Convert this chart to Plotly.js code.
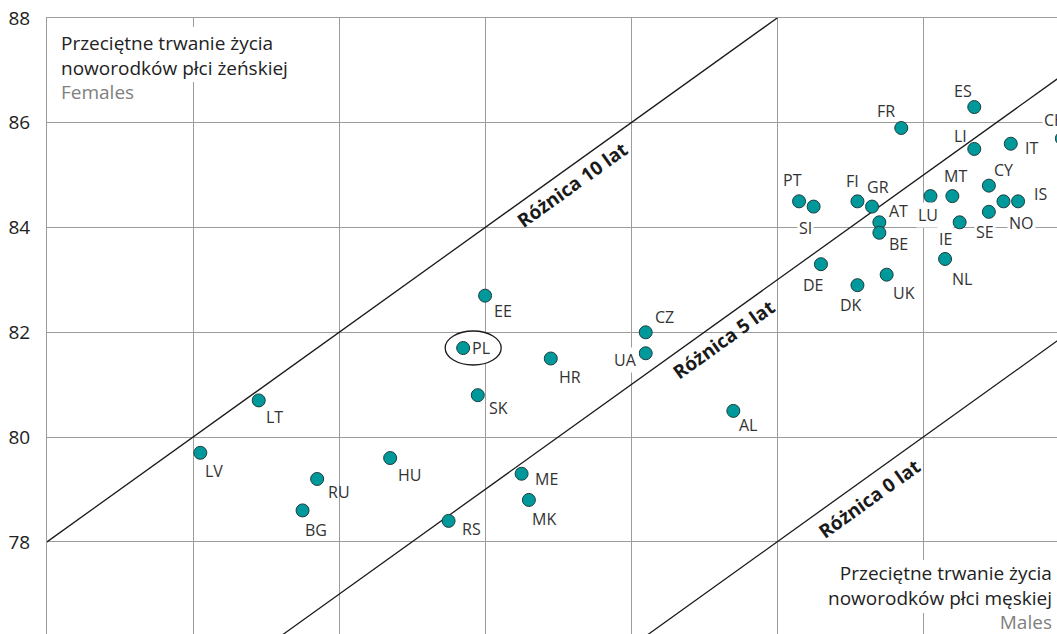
<!DOCTYPE html>
<html>
<head>
<meta charset="utf-8">
<script src="https://cdn.plot.ly/plotly-3.0.1.min.js"></script>
<style>
  html, body { margin: 0; padding: 0; overflow: hidden; background: #fff; }
  #chart { width: 1113px; height: 699px; }
</style>
</head>
<body>
<div id="chart"></div>
<script>
// ---- data (life expectancy at birth) ----
const countries = ["LV","LT","RU","BG","HU","RS","PL","SK","EE","HR","ME","MK","CZ","UA","AL",
                   "PT","SI","FI","GR","AT","BE","DE","DK","UK","FR","LU","MT","IE","NL",
                   "ES","LI","IT","CY","SE","NO","IS","CH"];
const males   = [70.1,70.9,71.7,71.5,72.7,73.5,73.7,73.9,74.0,74.9,74.5,74.6,76.2,76.2,77.4,
                 78.3,78.5,79.1,79.3,79.4,79.4,78.6,79.1,79.5,79.7,80.1,80.4,80.5,80.3,
                 80.7,80.7,81.2,80.9,80.9,81.1,81.3,81.9];
const females = [79.7,80.7,79.2,78.6,79.6,78.4,81.7,80.8,82.7,81.5,79.3,78.8,82.0,81.6,80.5,
                 84.5,84.4,84.5,84.4,84.1,83.9,83.3,82.9,83.1,85.9,84.6,84.6,84.1,83.4,
                 86.3,85.5,85.6,84.8,84.3,84.5,84.5,85.7];
const gapLines = [10, 5, 0];
const gapLabels = ["Różnica 10 lat", "Różnica 5 lat", "Różnica 0 lat"];
const yTicks = [78, 80, 82, 84, 86, 88];
const xGrid = [68, 70, 72, 74, 76, 78, 80, 82];

// ---- layout / style settings ----
const X_RANGE = [68, 82.6], Y_RANGE = [75, 88];
const M = {l: 47, r: 0, t: 18, b: 0};
const W = 1113, H = 699;
const FONT = "'Open Sans', 'Noto Sans', sans-serif";
// label offsets in pixels [dx, dy] (dy downwards)
const LABEL_OFF = {
  LV:[14,18], LT:[16,17], RU:[22,13], BG:[13,20], HU:[19,17], RS:[23,8], PL:[18,0],
  SK:[21,13], EE:[18,15], HR:[19,18], ME:[25,5], MK:[15,19], CZ:[19,-15], UA:[-20,7],
  AL:[15,14], PT:[-7,-21], SI:[-8,21], FI:[-5,-20], GR:[6,-20], AT:[19,-11], BE:[19,11],
  DE:[-7,21], DK:[-6,20], UK:[17,18], FR:[-15,-17], LU:[-2,19], MT:[3,-20], IE:[-14,17],
  NL:[17,20], ES:[-11,-16], LI:[-14,-13], IT:[21,4], CY:[15,-16], SE:[-4,20], NO:[18,22],
  IS:[22,-7], CH:[-7,-18]
};
// labels that knock out the grid lines behind them
const KNOCKOUT = ["SI", "UA", "NO", "SE", "CH", "LU", "IE"];
// gap-line label anchors (data coords)
const GAP_LABEL_POS = [[75.19, 84.82], [77.26, 81.86], [79.26, 78.81]];

const pw = W - M.l - M.r, ph = H - M.t - M.b;
const paperX = px => (px - M.l) / pw;
const paperY = py => 1 - (py - M.t) / ph;
// pixel -> axis value, used only to place white knock-out boxes behind corner texts
const axX = px => X_RANGE[0] + (px - M.l) / pw * (X_RANGE[1] - X_RANGE[0]);
const axY = py => Y_RANGE[1] - (py - M.t) / ph * (Y_RANGE[1] - Y_RANGE[0]);

const traces = [];
gapLines.forEach(d => {
  const xs = [X_RANGE[0] - 10, X_RANGE[1] + 10];
  traces.push({
    type: 'scatter', mode: 'lines', x: xs, y: xs.map(v => v + d),
    line: {color: '#1a1a1a', width: 1.3}, hoverinfo: 'skip', showlegend: false
  });
});
traces.push({
  type: 'scatter', mode: 'markers', x: males, y: females, text: countries,
  marker: {size: 13, color: '#00999b', line: {color: '#1f3d3d', width: 1}},
  showlegend: false, cliponaxis: false
});

const annotations = countries.map((c, i) => ({
  x: males[i], y: females[i], xref: 'x', yref: 'y', text: c, showarrow: false,
  xshift: LABEL_OFF[c][0], yshift: -LABEL_OFF[c][1],
  font: {family: FONT, size: 16, color: '#333'},
  bgcolor: KNOCKOUT.includes(c) ? '#fff' : 'rgba(0,0,0,0)', borderpad: 1
}));
const ang = -Math.atan((ph / (Y_RANGE[1]-Y_RANGE[0])) / (pw / (X_RANGE[1]-X_RANGE[0]))) * 180 / Math.PI;
gapLabels.forEach((t, i) => annotations.push({
  x: GAP_LABEL_POS[i][0], y: GAP_LABEL_POS[i][1], xref: 'x', yref: 'y', text: '<b>' + t + '</b>',
  showarrow: false, textangle: ang, font: {family: FONT, size: 19, color: '#1a1a1a'}
}));
// corner texts
annotations.push({
  xref: 'paper', yref: 'paper', x: paperX(58), y: paperY(27), xanchor: 'left', yanchor: 'top',
  align: 'left', showarrow: false, borderpad: 2,
  text: 'Przeciętne trwanie życia<br>noworodków płci żeńskiej<br><span style="fill:#808080">Females</span>',
  font: {family: FONT, size: 19, color: '#222'}
});
annotations.push({
  xref: 'paper', yref: 'paper', x: paperX(1055), y: paperY(557), xanchor: 'right', yanchor: 'top',
  align: 'right', showarrow: false, borderpad: 2,
  text: 'Przeciętne trwanie życia<br>noworodków płci męskiej<br><span style="fill:#808080">Males</span>',
  font: {family: FONT, size: 19, color: '#222'}
});

const whiteBox = (x0, y0, x1, y1) => ({
  type: 'rect', xref: 'x', yref: 'y', x0: axX(x0), x1: axX(x1), y0: axY(y0), y1: axY(y1),
  line: {width: 0}, fillcolor: '#fff', layer: 'between'
});

const plIdx = countries.indexOf('PL');
const layout = {
  width: W, height: H, margin: M, paper_bgcolor: '#fff', plot_bgcolor: '#fff',
  font: {family: FONT},
  xaxis: {range: X_RANGE, tickvals: xGrid, showticklabels: false, ticks: '',
          showgrid: true, gridcolor: '#9c9c9c', gridwidth: 1, zeroline: false,
          showline: true, side: 'top', linecolor: '#9c9c9c', linewidth: 1, fixedrange: true},
  yaxis: {range: Y_RANGE, tickvals: yTicks, ticktext: yTicks.map(String),
          showgrid: true, gridcolor: '#9c9c9c', gridwidth: 1, zeroline: false,
          showline: true, linecolor: '#9c9c9c', linewidth: 1,
          ticks: 'outside', ticklen: 12, tickcolor: 'rgba(0,0,0,0)',
          tickfont: {family: FONT, size: 19, color: '#222'}, fixedrange: true},
  shapes: [
    whiteBox(56, 27, 293, 82),
    whiteBox(822, 560, 1060, 613),
    {
      type: 'circle', xref: 'x', yref: 'y', xsizemode: 'pixel', ysizemode: 'pixel',
      xanchor: males[plIdx], yanchor: females[plIdx], x0: -18, x1: 38, y0: -17, y1: 17,
      line: {color: '#1a1a1a', width: 1.3}, fillcolor: '#fff', layer: 'between'
    }
  ],
  annotations: annotations, showlegend: false, hovermode: false
};
Plotly.newPlot('chart', traces, layout, {staticPlot: true, displayModeBar: false});
</script>
</body>
</html>
